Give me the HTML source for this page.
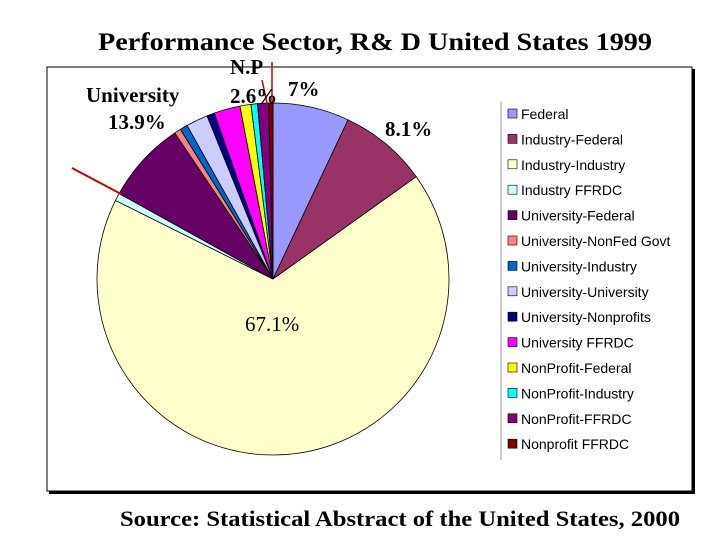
<!DOCTYPE html>
<html><head><meta charset="utf-8"><style>
body{margin:0;background:#fff;}
svg{display:block;}
</style></head><body>
<svg width="720" height="540" viewBox="0 0 720 540" xmlns="http://www.w3.org/2000/svg">
<text x="98" y="50" font-family="Liberation Serif, serif" font-weight="bold" font-size="25" textLength="554" lengthAdjust="spacingAndGlyphs">Performance Sector, R&amp; D United States 1999</text>
<rect x="49" y="69" width="646" height="425" fill="#000"/>
<rect x="47" y="67" width="645" height="424" fill="#fff" stroke="#000" stroke-width="1"/>
<g id="pie"></g>
<line x1="501" y1="102" x2="501" y2="460" stroke="#999" stroke-width="1"/>
<g id="legend"></g>
<line x1="72" y1="168" x2="121" y2="194" stroke="#c00" stroke-width="2"/>
<line x1="262" y1="80" x2="267" y2="103" stroke="#c00" stroke-width="1.5"/>
<line x1="272" y1="62" x2="272" y2="103" stroke="#c00" stroke-width="1.5"/>
<g font-family="Liberation Serif, serif" font-weight="bold" font-size="21">
<text x="86" y="102">University</text>
<text x="108" y="129">13.9%</text>
<text x="230" y="74">N.P</text>
<text x="230" y="103">2.6%</text>
<text x="288" y="96">7%</text>
<text x="385" y="136">8.1%</text>
<text x="245" y="331" font-weight="normal">67.1%</text>
</g>
<text x="120" y="526" font-family="Liberation Serif, serif" font-weight="bold" font-size="22" textLength="560" lengthAdjust="spacingAndGlyphs">Source: Statistical Abstract of the United States, 2000</text>
</svg>
<script>
const categories=["Federal","Industry-Federal","Industry-Industry","Industry FFRDC","University-Federal","University-NonFed Govt","University-Industry","University-University","University-Nonprofits","University FFRDC","NonProfit-Federal","NonProfit-Industry","NonProfit-FFRDC","Nonprofit FFRDC"];
const values=[7.0,8.1,67.1,0.7,7.5,0.6,0.7,2.0,0.7,2.4,1.0,0.6,1.0,0.4];
const colors=["#9999ff","#993366","#ffffcc","#ccffff","#660066","#ff8080","#0066cc","#ccccff","#000080","#ff00ff","#ffff00","#00ffff","#800080","#800000"];
const NS="http://www.w3.org/2000/svg";
const cx=273,cy=279,r=176;
const total=values.reduce((a,b)=>a+b,0);
const pie=document.getElementById('pie');
let acc=0;
values.forEach((v,i)=>{
  const a0=acc/total*2*Math.PI; acc+=v; const a1=acc/total*2*Math.PI;
  const x0=cx+r*Math.sin(a0),y0=cy-r*Math.cos(a0),x1=cx+r*Math.sin(a1),y1=cy-r*Math.cos(a1);
  const large=(a1-a0)>Math.PI?1:0;
  const p=document.createElementNS(NS,'path');
  p.setAttribute('d',`M${cx},${cy}L${x0},${y0}A${r},${r} 0 ${large} 1 ${x1},${y1}Z`);
  p.setAttribute('fill',colors[i]);p.setAttribute('stroke','#000');p.setAttribute('stroke-width','0.8');
  
  
  pie.appendChild(p);
});
const lg=document.getElementById('legend');
categories.forEach((c,i)=>{
  const y=114+i*25.4;
  const s=document.createElementNS(NS,'rect');
  s.setAttribute('x',508);s.setAttribute('y',y-5);s.setAttribute('width',9);s.setAttribute('height',9);
  s.setAttribute('fill',colors[i]);s.setAttribute('stroke','#000');s.setAttribute('stroke-width','0.6');
  
  
  lg.appendChild(s);
  const t=document.createElementNS(NS,'text');
  t.setAttribute('x',521);t.setAttribute('y',y+5);
  t.setAttribute('font-family','Liberation Sans, sans-serif');t.setAttribute('font-size','14');
  t.textContent=c;
  
  
  lg.appendChild(t);
});
</script>
</body></html>
